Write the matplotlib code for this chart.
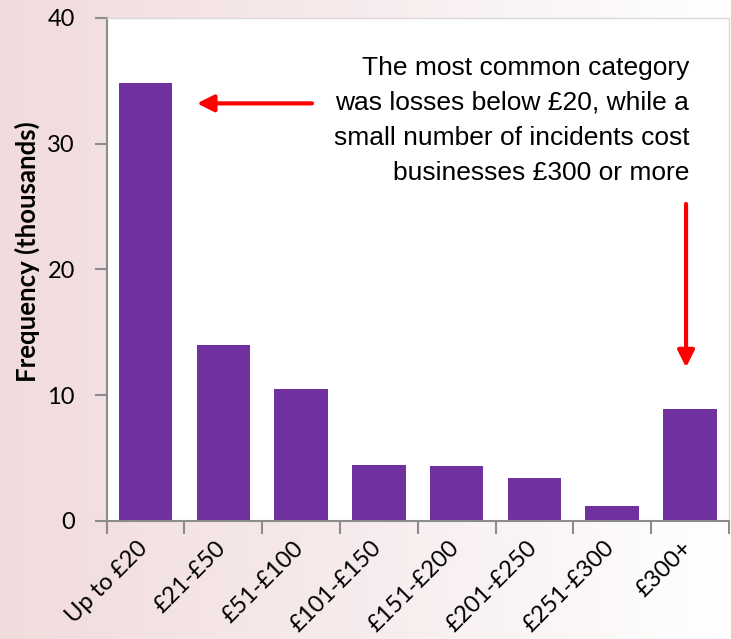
import numpy as np
import matplotlib.pyplot as plt
from matplotlib.colors import LinearSegmentedColormap
from matplotlib.transforms import offset_copy

categories = ["Up to £20", "£21-£50", "£51-£100", "£101-£150", "£151-£200",
              "£201-£250", "£251-£300", "£300+"]
frequency = [34.8, 14.0, 10.5, 4.43, 4.33, 3.42, 1.2, 8.9]   # thousands
y_ticks = [0, 10, 20, 30, 40]
note = ("The most common category\nwas losses below £20, while a\n"
        "small number of incidents cost\nbusinesses £300 or more")

fig = plt.figure(figsize=(7.31, 6.39), dpi=100)

# pale pink wash fading to white towards the right
bg = fig.add_axes([0, 0, 1, 1], zorder=-1)
cmap = LinearSegmentedColormap.from_list("wash", ["#f1dbdd", "#f7eced", "#ffffff"])
bg.imshow(np.linspace(0, 1, 256)[None, :], aspect="auto", cmap=cmap,
          extent=[0, 1, 0, 1])
bg.axis("off")

ax = fig.add_axes([0.146, 0.185, 0.851, 0.787])
ax.set_facecolor("white")
x = np.arange(len(categories))
ax.bar(x, frequency, width=0.69, color="#7030a0", zorder=2)

ax.set_xlim(-0.5, len(categories) - 0.5)
ax.set_ylim(0, 40)
ax.set_yticks(y_ticks)
ax.tick_params(axis="y", direction="out", length=9, width=1.5, color="#8c8c8c",
               pad=14, labelsize=17)
ax.set_yticklabels([str(t) for t in y_ticks], fontfamily="Lato")

# category labels at bar centres, tick marks on the boundaries
ax.set_xticks(x)
ax.set_xticklabels([])
ax.tick_params(axis="x", which="major", length=0)
label_tf = offset_copy(ax.get_xaxis_transform(), fig=fig, x=-1, y=-24,
                       units="dots")
for i, name in enumerate(categories):
    ax.text(i, 0, name, transform=label_tf, rotation=45, ha="right",
            va="center", rotation_mode="anchor", fontfamily="Lato",
            fontsize=17)
ax.set_xticks(np.arange(-0.5, len(categories)), minor=True)
ax.tick_params(axis="x", which="minor", direction="out", length=9, width=1.5,
               color="#8c8c8c")

for side in ("left", "bottom"):
    ax.spines[side].set_color("#8c8c8c")
    ax.spines[side].set_linewidth(1.5)
for side in ("top", "right"):
    ax.spines[side].set_color("#d9d9d9")
    ax.spines[side].set_linewidth(1)

ax.set_ylabel("Frequency (thousands)", fontfamily="Lato", fontweight="bold",
              fontsize=18.5)
ax.yaxis.set_label_coords(-0.107, 0.535)

ax.text(6.99, 37.0, note, ha="right", va="top", fontsize=19,
        fontfamily="Liberation Sans", linespacing=1.58)

arrow = dict(arrowstyle="-|>", color="red", lw=3, mutation_scale=25,
             shrinkA=0, shrinkB=0)
ax.annotate("", xy=(0.66, 33.2), xytext=(2.14, 33.2), arrowprops=arrow)
ax.annotate("", xy=(6.95, 12.2), xytext=(6.95, 25.2), arrowprops=arrow)

fig.savefig("out.png", dpi=100)
